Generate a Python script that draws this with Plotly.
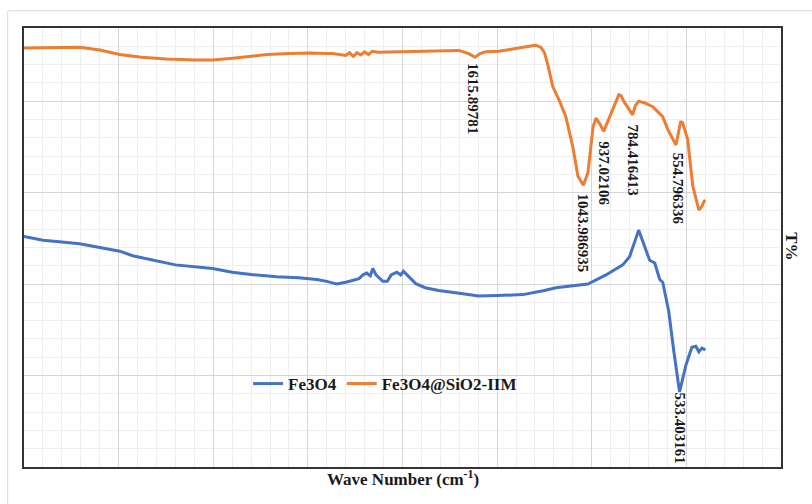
import plotly.graph_objects as go

# Fe3O4@SiO2-IIM (orange)
wn_orange = [4000, 3850, 3706, 3600, 3494, 3380, 3246, 3100, 3003, 2897, 2800, 2717, 2600, 2490,
             2400, 2368, 2300, 2280, 2260, 2240, 2220, 2200, 2180, 2160, 2130, 2015, 1900, 1800,
             1703, 1650, 1616, 1590, 1560, 1491, 1401, 1330, 1296, 1269, 1250, 1230, 1206, 1170,
             1137, 1100, 1073, 1044, 1020, 993, 977, 960, 937, 910, 880, 857, 845, 831, 784, 770,
             752, 720, 678, 650, 625, 600, 555, 530, 519, 493, 466, 434, 418, 408, 400]
t_orange = [45.8, 45.85, 45.9, 45.6, 45.1, 44.8, 44.6, 44.5, 44.5, 44.7, 44.95, 45.1, 45.2, 45.26,
            45.2, 45.2, 45.0, 45.3, 44.9, 45.3, 45.05, 45.4, 45.1, 45.45, 45.35, 45.4, 45.5, 45.55,
            45.55, 45.2, 44.8, 45.2, 45.4, 45.45, 45.8, 46.0, 46.1, 45.9, 45.3, 43.8, 41.6, 40.0,
            38.3, 35.0, 31.8, 30.8, 32.2, 37.2, 38.15, 37.6, 36.7, 38.0, 39.5, 40.7, 40.6, 40.0, 38.5, 39.5,
            40.0, 39.8, 39.4, 38.8, 38.3, 37.0, 35.2, 37.8, 37.6, 35.8, 30.7, 28.1, 28.5, 29.0, 29.2]

# Fe3O4 (blue)
wn_blue = [4000, 3900, 3800, 3706, 3600, 3494, 3426, 3300, 3200, 3003, 2900, 2800, 2665, 2550,
           2453, 2400, 2347, 2300, 2263, 2230, 2210, 2189, 2170, 2157, 2140, 2104, 2080, 2060,
           2040, 2030, 2010, 1995, 1983, 1930, 1880, 1809, 1700, 1597, 1500, 1364, 1250, 1190,
           1020, 925, 836, 800, 752, 720, 694, 667, 641, 625, 593, 566, 536, 503, 471, 450, 434,
           418, 400]
t_blue = [25.2, 24.8, 24.6, 24.4, 24.0, 23.6, 23.1, 22.5, 22.1, 21.7, 21.3, 21.05, 20.8, 20.7,
          20.5, 20.3, 20.0, 20.2, 20.4, 20.6, 21.0, 21.2, 20.9, 21.7, 21.0, 20.3, 20.3, 21.0,
          21.2, 21.3, 21.0, 21.4, 21.15, 20.05, 19.6, 19.3, 19.0, 18.7, 18.75, 18.85, 19.3, 19.6,
          20.0, 21.0, 22.1, 23.0, 25.9, 24.0, 22.6, 22.3, 20.5, 20.2, 17.0, 12.6, 8.2, 11.1, 13.1,
          13.2, 12.6, 13.0, 12.8]

# peak labels (text, label-centre x, label-centre y)
peak_text = ["1615.89781", "1043.986935", "937.02106", "784.416413", "554.796336", "533.403161"]
peak_x = [1629, 1047, 935, 781, 547, 529]
peak_y = [40.26, 25.55, 32.1, 33.6, 30.36, 4.21]

FONT = "Liberation Serif"
BLUE = "#4472C4"
ORANGE = "#ED7D31"

fig = go.Figure()
fig.add_trace(go.Scatter(x=wn_blue, y=t_blue, mode="lines", name="Fe3O4",
                         line=dict(color=BLUE, width=3)))
fig.add_trace(go.Scatter(x=wn_orange, y=t_orange, mode="lines", name="Fe3O4@SiO2-IIM",
                         line=dict(color=ORANGE, width=3)))

for txt, px, py in zip(peak_text, peak_x, peak_y):
    fig.add_annotation(x=px, y=py, xref="x", yref="y", text=txt, showarrow=False,
                       textangle=90, xanchor="center", yanchor="middle",
                       font=dict(family=FONT, size=15, color="#1a1a1a", weight="bold"))

fig.add_annotation(x=0.5, y=-0.025, xref="paper", yref="paper",
                   text="Wave Number (cm<sup>-1</sup>)", showarrow=False,
                   xanchor="center", yanchor="middle",
                   font=dict(family=FONT, size=17, color="#1a1a1a", weight="bold"))
fig.add_annotation(x=1.0145, y=0.503, xref="paper", yref="paper",
                   text="T%", showarrow=False, textangle=90,
                   xanchor="center", yanchor="middle",
                   font=dict(family=FONT, size=17, color="#1a1a1a", weight="bold"))

# outer chart frame (light grey)
fig.add_shape(type="rect", xref="paper", yref="paper", x0=-0.0215, y0=-0.2, x1=1.3, y1=1.0394,
              line=dict(color="#d9d9d9", width=1), layer="below")

fig.update_layout(
    width=812, height=504,
    margin=dict(l=24, r=31, t=28, b=37),
    paper_bgcolor="white", plot_bgcolor="white",
    showlegend=True,
    legend=dict(orientation="h", x=0.296, y=0.189, xanchor="left", yanchor="middle",
                bgcolor="rgba(0,0,0,0)", itemwidth=30,
                font=dict(family=FONT, size=17, color="#1a1a1a", weight="bold")),
    xaxis=dict(range=[4000, 0], dtick=500, tick0=0, showticklabels=False, ticks="",
               showgrid=True, gridcolor="#d6d6d6", gridwidth=1, zeroline=False,
               showline=True, linecolor="#333333", linewidth=2, mirror=True,
               minor=dict(dtick=100, showgrid=True, gridcolor="#eeeeee", gridwidth=1)),
    yaxis=dict(range=[0, 48], dtick=10, tick0=0, showticklabels=False, ticks="",
               showgrid=True, gridcolor="#d6d6d6", gridwidth=1, zeroline=False,
               showline=True, linecolor="#333333", linewidth=2, mirror=True,
               minor=dict(dtick=2, showgrid=True, gridcolor="#eeeeee", gridwidth=1)),
)

fig.write_html("out.html")
